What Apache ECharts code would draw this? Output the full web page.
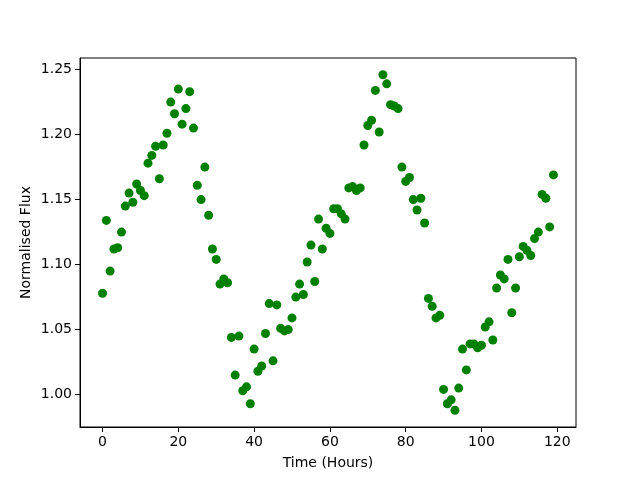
<!DOCTYPE html>
<html>
<head>
<meta charset="utf-8">
<script src="https://cdn.jsdelivr.net/npm/echarts@6/dist/echarts.min.js"></script>
<style>
  html, body { margin: 0; padding: 0; background: #fff; }
  #chart { width: 640px; height: 480px; }
</style>
</head>
<body>
<div id="chart"></div>
<script>
// observations, one per hour
const fluxValues = [
  1.078, 1.134, 1.095, 1.112, 1.113, 1.125, 1.145, 1.155, 1.148, 1.162,
  1.157, 1.153, 1.178, 1.184, 1.191, 1.166, 1.192, 1.201, 1.225, 1.216,
  1.235, 1.208, 1.220, 1.233, 1.205, 1.161, 1.150, 1.175, 1.138, 1.112,
  1.104, 1.085, 1.089, 1.086, 1.044, 1.015, 1.045, 1.003, 1.006, 0.993,
  1.035, 1.018, 1.022, 1.047, 1.070, 1.026, 1.069, 1.051, 1.049, 1.050,
  1.059, 1.075, 1.085, 1.077, 1.102, 1.115, 1.087, 1.135, 1.112, 1.128,
  1.124, 1.143, 1.143, 1.139, 1.135, 1.159, 1.160, 1.157, 1.159, 1.192,
  1.207, 1.211, 1.234, 1.202, 1.246, 1.239, 1.223, 1.222, 1.220, 1.175,
  1.164, 1.167, 1.150, 1.142, 1.151, 1.132, 1.074, 1.068, 1.059, 1.061,
  1.004, 0.993, 0.996, 0.988, 1.005, 1.035, 1.019, 1.039, 1.039, 1.036,
  1.038, 1.052, 1.056, 1.042, 1.082, 1.092, 1.089, 1.104, 1.063, 1.082,
  1.106, 1.114, 1.111, 1.107, 1.120, 1.125, 1.154, 1.151, 1.129, 1.169
]
const timeValues = fluxValues.map((_, i) => i)
const xTicks = [0, 20, 40, 60, 80, 100, 120]
const yTicks = [1.00, 1.05, 1.10, 1.15, 1.20, 1.25]

// matplotlib style 5% margins
const pad = (lo, hi) => [lo - (hi - lo) * 0.05, hi + (hi - lo) * 0.05]
const [xMin, xMax] = pad(Math.min(...timeValues), Math.max(...timeValues))
const [yMin, yMax] = pad(Math.min(...fluxValues), Math.max(...fluxValues))

const font = { fontFamily: 'DejaVu Sans', fontSize: 14, color: '#000' }

const chart = echarts.init(document.getElementById('chart'))
chart.setOption({
  animation: false,
  grid: {
    left: 80, right: 64, top: 58, bottom: 53,
    show: true, borderColor: '#000', borderWidth: 1
  },
  xAxis: {
    type: 'value', min: xMin, max: xMax,
    name: 'Time (Hours)', nameLocation: 'middle', nameGap: 29,
    nameMoveOverlap: false,
    nameTextStyle: font,
    splitLine: { show: false },
    axisLine: { show: true, onZero: false, lineStyle: { color: '#000' } },
    axisTick: { show: true, length: 5, lineStyle: { color: '#000' }, customValues: xTicks },
    axisLabel: { ...font, margin: 8, customValues: xTicks }
  },
  yAxis: {
    type: 'value', min: yMin, max: yMax,
    name: 'Normalised Flux', nameLocation: 'middle', nameGap: 47,
    nameMoveOverlap: false,
    nameTextStyle: font,
    splitLine: { show: false },
    axisLine: { show: true, onZero: false, lineStyle: { color: '#000' } },
    axisTick: { show: true, length: 5, lineStyle: { color: '#000' }, customValues: yTicks },
    axisLabel: { ...font, margin: 8, customValues: yTicks, formatter: v => v.toFixed(2) }
  },
  series: [{
    type: 'scatter',
    data: timeValues.map((t, i) => [t, fluxValues[i]]),
    symbol: 'circle',
    symbolSize: 9,
    itemStyle: { color: '#008000', opacity: 1 }
  }]
})
</script>
</body>
</html>
